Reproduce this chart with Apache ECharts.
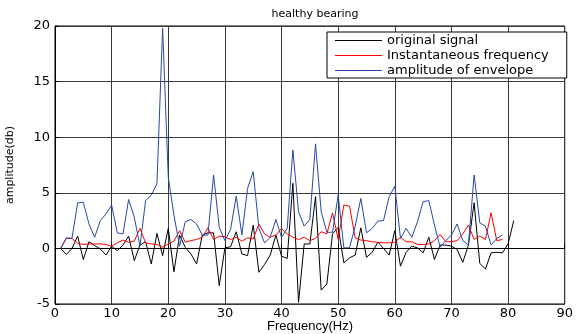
<!DOCTYPE html>
<html>
<head>
<meta charset="utf-8">
<script src="https://cdn.jsdelivr.net/npm/echarts@6/dist/echarts.min.js"></script>
<style>html,body{margin:0;padding:0;background:#fff}#c{width:576px;height:334px}</style>
</head>
<body>
<div id="c"></div>
<script>
const titleText = 'healthy bearing';
const xName = 'Frequency(Hz)';
const yName = 'amplitude(db)';
const seriesNames = ['original signal', 'Instantaneous frequency', 'amplitude of envelope'];
const xTicks = [0, 10, 20, 30, 40, 50, 60, 70, 80, 90];
const yTicks = [-5, 0, 5, 10, 15, 20];

const freqStart = 1;
const originalSignal = [0, -0.55, 0, 1.1, -1.0, 0.6, 0.25, -0.05, -0.6, 0.2,
  -0.2, 0.3, 1.1, -1.1, 0.3, 0.6, -1.4, 1.35, -0.65, 1.8,
  -2.1, 1.2, 0.1, -0.5, -1.4, 1.2, 1.4, 1.4, -3.35, 0.05,
  0.15, 1.5, -0.5, -0.65, 2.1, -2.15, -1.45, -0.6, 1.2, -0.7,
  -0.9, 5.85, -4.85, 0.4, 0.4, 4.65, -3.75, -3.2, 1.3, 1.9,
  -1.3, -0.85, -0.6, 1.85, -0.8, -0.35, 0.55, 0, -0.6, 1.6,
  -1.6, -0.35, 0.2, 0.05, -0.4, 1.0, -1.0, 0.3, 0.3, 0.2,
  -0.1, -1.25, 0.3, 4.1, -1.35, -1.85, -0.4, -0.35, -0.4, 0.4, 2.5];
const instFrequency = [0, 0.9, 0.9, 0.45, 0.35, 0.4, 0.4, 0.4, 0.35, 0.2,
  0.5, 0.75, 0.55, 0.65, 1.8, 0.5, 0.4, 0.35, 0.1, 0.4,
  0.65, 1.6, 0.55, 0.7, 0.8, 1.0, 1.85, 0.8, 1.1, 1.05,
  0.8, 1.0, 0.65, 0.95, 0.85, 2.2, 1.3, 1.0, 1.2, 1.8,
  1.3, 1.0, 0.8, 1.0, 0.7, 0.9, 1.5, 1.3, 3.2, 0.8,
  3.9, 3.8, 0.95, 0.75, 0.7, 0.6, 0.55, 0.5, 0.5, 0.55,
  1.0, 0.6, 0.6, 0.35, 0.35, 0.4, 0.7, 1.25, 0.6, 0.6,
  0.7, 1.3, 2.1, 0.8, 1.1, 0.8, 3.2, 0.7, 0.8];
const envelopeAmp = [0, 0.95, 0.9, 4.1, 4.15, 2.2, 1.0, 2.5, 3.1, 3.9,
  1.4, 1.3, 4.4, 2.8, 0.2, 4.3, 4.8, 5.8, 19.8, 6.4,
  3.0, 0.2, 2.4, 2.6, 2.2, 1.2, 1.2, 6.6, 1.9, 0.7,
  1.7, 4.7, 1.2, 5.4, 6.9, 1.8, 0.5, 1.0, 2.6, 1.0,
  1.8, 8.85, 3.3, 2.0, 2.6, 9.4, 3.3, 1.45, 1.45, 4.8,
  0.05, 0.05, 2.0, 4.5, 1.4, 1.8, 2.45, 2.5, 4.65, 5.6,
  0.9, 1.8, 1.0, 2.4, 4.2, 4.3, 2.1, 0.1, 0.7, 1.2,
  2.2, 0.7, 0.3, 6.6, 2.3, 2.0, 0.3, 0.9, 1.2];

const colors = ['#000000', '#ff0000', '#2848a8'];
const toPairs = arr => arr.map((v, i) => [freqStart + i, v]);
const font = 'DejaVu Sans, Verdana, sans-serif';

const chart = echarts.init(document.getElementById('c'), null, {renderer: 'canvas'});
chart.setOption({
  animation: false,
  backgroundColor: '#fff',
  title: {
    text: titleText, left: 310, top: 4, textAlign: 'center',
    textStyle: {fontSize: 11, fontWeight: 'normal', color: '#000', fontFamily: font}
  },
  graphic: [
    {type: 'text', x: 310, y: 326, style: {text: xName, fontSize: 13, fill: '#000', font: '13px ' + font, textAlign: 'center', textVerticalAlign: 'middle'}},
    {type: 'text', x: 10, y: 165, rotation: Math.PI / 2, style: {text: yName, fill: '#000', font: '11px ' + font, textAlign: 'center', textVerticalAlign: 'middle'}}
  ],
  grid: {left: 55, right: 10, top: 26, bottom: 30, containLabel: false,
    show: true, borderColor: '#000', borderWidth: 1, backgroundColor: 'transparent'},
  legend: {
    data: seriesNames, orient: 'vertical', left: 327, top: 32,
    padding: [1, 18, 0, 8], itemGap: 0, itemWidth: 47, itemHeight: 1,
    icon: 'rect', backgroundColor: '#fff', borderColor: '#000', borderWidth: 1,
    textStyle: {fontSize: 13, color: '#000', fontFamily: font, lineHeight: 15}
  },
  xAxis: {
    type: 'value', min: xTicks[0], max: xTicks[xTicks.length - 1], interval: 10,
    axisLine: {show: true, lineStyle: {color: '#000'}},
    axisTick: {show: true, inside: true, length: 4, lineStyle: {color: '#000'}},
    axisLabel: {fontSize: 13, color: '#000', fontFamily: font, margin: 3},
    splitLine: {show: true, lineStyle: {color: '#3a3a3a', width: 1}}
  },
  yAxis: {
    type: 'value', min: yTicks[0], max: yTicks[yTicks.length - 1], interval: 5,
    axisLine: {show: true, lineStyle: {color: '#000'}},
    axisTick: {show: true, inside: true, length: 4, lineStyle: {color: '#000'}},
    axisLabel: {fontSize: 13, color: '#000', fontFamily: font, margin: 5},
    splitLine: {show: true, lineStyle: {color: '#3a3a3a', width: 1}}
  },
  series: [
    {name: seriesNames[0], type: 'line', data: toPairs(originalSignal), showSymbol: false, symbol: 'none', lineStyle: {color: colors[0], width: 1}, itemStyle: {color: colors[0]}},
    {name: seriesNames[1], type: 'line', data: toPairs(instFrequency), showSymbol: false, symbol: 'none', lineStyle: {color: colors[1], width: 1}, itemStyle: {color: colors[1]}},
    {name: seriesNames[2], type: 'line', data: toPairs(envelopeAmp), showSymbol: false, symbol: 'none', lineStyle: {color: colors[2], width: 1}, itemStyle: {color: colors[2]}}
  ]
});
</script>
</body>
</html>
